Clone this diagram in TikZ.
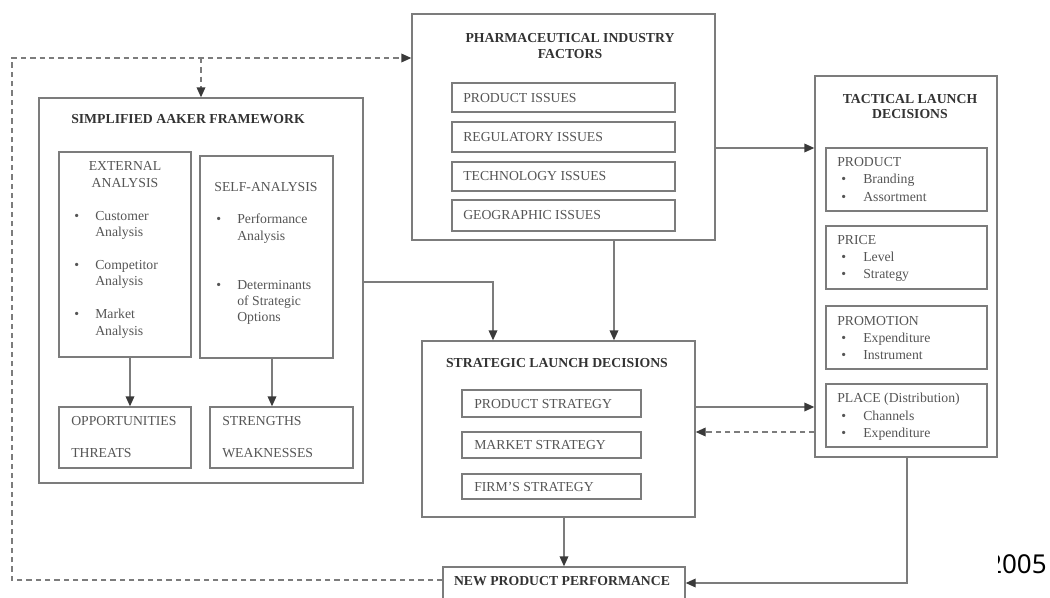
\documentclass[tikz,border=0pt]{standalone}
\usepackage{fontspec}
\setmainfont{Liberation Serif}
\newfontfamily\notefont{Noto Sans}
\usetikzlibrary{arrows.meta,fit}
\definecolor{linegray}{HTML}{7C7C7C}
\definecolor{txtgray}{HTML}{555555}
\definecolor{ttlgray}{HTML}{333333}
\definecolor{arrgray}{HTML}{3A3A3A}
\begin{document}
\begin{tikzpicture}[x=0.75pt,y=-0.75pt,
  box/.style={draw=linegray,line width=1pt,inner sep=0pt,fit={#1}},
  lbl/.style={anchor=base west,inner sep=0pt,text=txtgray,font=\fontsize{10.3}{12}\selectfont},
  clbl/.style={anchor=base,inner sep=0pt,text=txtgray,font=\fontsize{10.3}{12}\selectfont},
  ttl/.style={anchor=base,inner sep=0pt,text=ttlgray,font=\fontsize{10.3}{12}\selectfont\bfseries},
  conn/.style={draw=linegray,line width=1pt,-{Triangle[length=7.5pt,width=6.5pt,color=arrgray]}},
  dconn/.style={conn,dash pattern=on 4pt off 3pt},
  dline/.style={draw=linegray,line width=1pt,dash pattern=on 4pt off 3pt},
  pline/.style={draw=linegray,line width=1pt}]
\useasboundingbox (0,0) rectangle (1050,597);

% ---------- Pharmaceutical industry factors ----------
\node[box={(412,14) (715,240)}] (pharma) {};
\node[ttl] (pharmaT1) at (570,42.5) {PHARMACEUTICAL INDUSTRY};
\node[ttl] (pharmaT2) at (570,58.5) {FACTORS};
\node[box={(452,83) (675,112)}] (pi1) {};
\node[box={(452,122) (675,152)}] (pi2) {};
\node[box={(452,162) (675,191)}] (pi3) {};
\node[box={(452,200) (675,231)}] (pi4) {};
\node[lbl] (pi1t) at (463,102) {PRODUCT ISSUES};
\node[lbl] (pi2t) at (463,141.5) {REGULATORY ISSUES};
\node[lbl] (pi3t) at (463,180.5) {TECHNOLOGY ISSUES};
\node[lbl] (pi4t) at (463,219.5) {GEOGRAPHIC ISSUES};

% ---------- Simplified Aaker framework ----------
\node[box={(39,98) (363,483)}] (aaker) {};
\node[ttl] (aakerT) at (188,123.5) {SIMPLIFIED AAKER FRAMEWORK};
\node[box={(59,152) (191,357)}] (ext) {};
\node[clbl] (extT1) at (125,170.5) {EXTERNAL};
\node[clbl] (extT2) at (125,187.5) {ANALYSIS};
\node[lbl] (eb1) at (74,220.5) {•};
\node[lbl] (e1a) at (95,220.5) {Customer};
\node[lbl] (e1b) at (95,236.5) {Analysis};
\node[lbl] (eb2) at (74,269.5) {•};
\node[lbl] (e2a) at (95,269.5) {Competitor};
\node[lbl] (e2b) at (95,285.5) {Analysis};
\node[lbl] (eb3) at (74,318.5) {•};
\node[lbl] (e3a) at (95,318.5) {Market};
\node[lbl] (e3b) at (95,335.5) {Analysis};

\node[box={(200,156) (333,358)}] (self) {};
\node[clbl] (selfT) at (266,191.5) {SELF-ANALYSIS};
\node[lbl] (sb1) at (216,223.5) {•};
\node[lbl] (s1a) at (237,223.5) {Performance};
\node[lbl] (s1b) at (237,240.5) {Analysis};
\node[lbl] (sb2) at (216,289.5) {•};
\node[lbl] (s2a) at (237,289.5) {Determinants};
\node[lbl] (s2b) at (237,305.5) {of Strategic};
\node[lbl] (s2c) at (237,321.5) {Options};

\node[box={(59,407) (191,468)}] (opp) {};
\node[lbl] (oppT1) at (71,425.5) {OPPORTUNITIES};
\node[lbl] (oppT2) at (71,457.5) {THREATS};
\node[box={(210,407) (353,468)}] (str) {};
\node[lbl] (strT1) at (222,425.5) {STRENGTHS};
\node[lbl] (strT2) at (222,457.5) {WEAKNESSES};

% ---------- Strategic launch decisions ----------
\node[box={(422,341) (695,517)}] (strat) {};
\node[ttl] (stratT) at (557,367.5) {STRATEGIC LAUNCH DECISIONS};
\node[box={(462,390) (641,417)}] (ss1) {};
\node[box={(462,432) (641,458)}] (ss2) {};
\node[box={(462,474) (641,499)}] (ss3) {};
\node[lbl] (ss1t) at (474,408) {PRODUCT STRATEGY};
\node[lbl] (ss2t) at (474,449.5) {MARKET STRATEGY};
\node[lbl] (ss3t) at (474,491) {FIRM'S STRATEGY};

% ---------- New product performance ----------
\node[box={(443,567) (685,612)}] (npp) {};
\node[ttl] (nppT) at (562,585.5) {NEW PRODUCT PERFORMANCE};

% ---------- Tactical launch decisions ----------
\node[box={(815,76) (997,457)}] (tact) {};
\node[ttl] (tactT1) at (910,103.5) {TACTICAL LAUNCH};
\node[ttl] (tactT2) at (910,118.5) {DECISIONS};
\node[box={(826,148) (987,211)}] (tp1) {};
\node[box={(826,226) (987,289)}] (tp2) {};
\node[box={(826,306) (987,369)}] (tp3) {};
\node[box={(826,384) (987,447)}] (tp4) {};
\node[lbl] (tp1h) at (837,166.5) {PRODUCT};
\node[lbl] (tp1b1) at (841,183.5) {•};
\node[lbl] (tp1a) at (863,183.5) {Branding};
\node[lbl] (tp1b2) at (841,201.5) {•};
\node[lbl] (tp1c) at (863,201.5) {Assortment};
\node[lbl] (tp2h) at (837,244.5) {PRICE};
\node[lbl] (tp2b1) at (841,261.5) {•};
\node[lbl] (tp2a) at (863,261.5) {Level};
\node[lbl] (tp2b2) at (841,278.5) {•};
\node[lbl] (tp2c) at (863,278.5) {Strategy};
\node[lbl] (tp3h) at (837,325.5) {PROMOTION};
\node[lbl] (tp3b1) at (841,342.5) {•};
\node[lbl] (tp3a) at (863,342.5) {Expenditure};
\node[lbl] (tp3b2) at (841,359.5) {•};
\node[lbl] (tp3c) at (863,359.5) {Instrument};
\node[lbl] (tp4h) at (837,402.5) {PLACE (Distribution)};
\node[lbl] (tp4b1) at (841,420.5) {•};
\node[lbl] (tp4a) at (863,420.5) {Channels};
\node[lbl] (tp4b2) at (841,437.5) {•};
\node[lbl] (tp4c) at (863,437.5) {Expenditure};

% ---------- connectors ----------
\draw[conn] (ext.south -| 130,0) -- (opp.north -| 130,0);
\draw[conn] (self.south -| 272,0) -- (str.north -| 272,0);
\draw[conn] (aaker.east |- 0,282) -| (strat.north -| 493,0);
\draw[conn] (pharma.south -| 614,0) -- (strat.north -| 614,0);
\draw[conn] (pharma.east |- 0,148) -- (tact.west |- 0,148);
\draw[conn] (strat.east |- 0,407) -- (tact.west |- 0,407);
\draw[dconn] (tact.west |- 0,432) -- (strat.east |- 0,432);
\draw[conn] (strat.south -| npp.north) -- (npp.north);
\draw[conn] (tact.south -| 907,0) |- (npp.east |- 0,583);

% feedback loop (dashed)
\coordinate (fbl) at (12,580);
\coordinate (ftl) at (12,58);
\draw[dline] (npp.west |- fbl) -- (fbl) -- (ftl) -- (ftl -| 300,0);
\draw[dconn] (ftl -| 300,0) -- (ftl -| pharma.west);
\draw[dconn] (ftl -| aaker.north) -- (aaker.north);

% ---------- clipped year at the lower right ----------
\begin{scope}
\clip (998,540) rectangle (1050,597);
\node[anchor=base east,inner sep=0pt,font=\notefont\fontsize{19.5}{22}\selectfont] (year) at (1047,573) {2005};
\end{scope}
\end{tikzpicture}
\end{document}
